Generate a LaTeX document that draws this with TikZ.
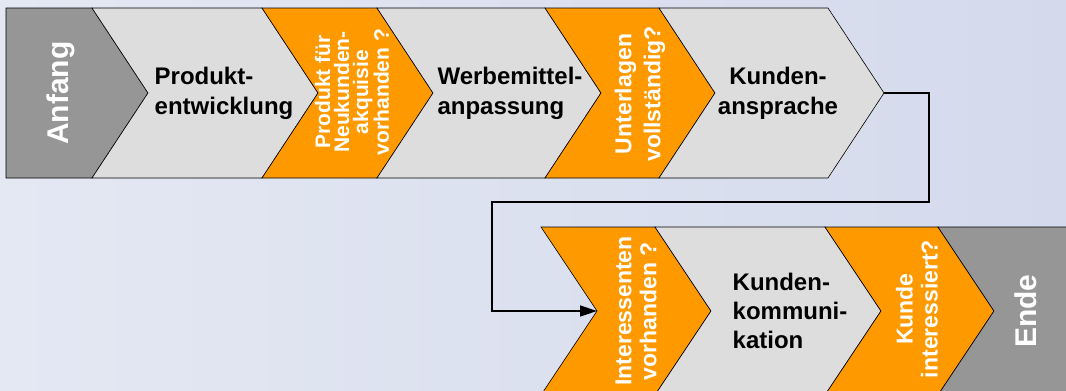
\documentclass[tikz,border=0pt]{standalone}
\usepackage{fontspec}
\setmainfont{Liberation Sans}
\usepackage{tikz}
\usetikzlibrary{arrows.meta, positioning, calc}
\definecolor{cOrange}{RGB}{255,153,0}
\definecolor{cLight}{RGB}{221,221,221}
\definecolor{cDark}{RGB}{150,150,150}
\definecolor{cBgA}{RGB}{228,232,243}
\definecolor{cBgB}{RGB}{212,218,236}
\tikzset{
	terminal/.style ={fill=cDark, draw=black, line width=0.6pt, line join=miter},
	process/.style  ={fill=cLight, draw=black, line width=0.6pt, line join=miter},
	decision/.style ={fill=cOrange, draw=black, line width=0.6pt, line join=miter},
	% texts on the chevrons
	termText/.style ={text=white, font=\bfseries\fontsize{30}{32}\selectfont, rotate=90, inner sep=0pt},
	procText/.style ={text=black, font=\bfseries\fontsize{24}{30}\selectfont, align=left, inner sep=0pt},
	decText/.style  ={text=white, font=\bfseries\fontsize{23}{25}\selectfont, align=center, rotate=90, inner sep=0pt},
	flowarrow/.style={-{Triangle[length=17pt, width=11pt]}, line width=1.4pt},
}
\begin{document}
\begin{tikzpicture}[x=1pt, y=-1pt]
	\useasboundingbox (0,0) rectangle (1066,391);
	\clip (0,0) rectangle (1066,391);
	\shade[left color=cBgA, right color=cBgB] (0,0) rectangle (1066,391);
	% upper row
	\draw[terminal] (6,8) -- (92,8) -- (148,93) -- (92,178) -- (6,178) -- cycle;
	\draw[process]  (92,8) -- (262,8) -- (318,93) -- (262,178) -- (92,178) -- (148,93) -- cycle;
	\draw[decision] (262,8) -- (377,8) -- (433,93) -- (377,178) -- (262,178) -- (318,93) -- cycle;
	\draw[process]  (377,8) -- (545,8) -- (601,93) -- (545,178) -- (377,178) -- (433,93) -- cycle;
	\draw[decision] (545,8) -- (659,8) -- (715,93) -- (659,178) -- (545,178) -- (601,93) -- cycle;
	\draw[process]  (659,8) -- (828,8) -- (884,93) -- (828,178) -- (659,178) -- (715,93) -- cycle;
	% lower row
	\draw[decision] (541,227) -- (655,227) -- (711,311) -- (655,395) -- (541,395) -- (597,311) -- cycle;
	\draw[process]  (655,227) -- (825,227) -- (881,311) -- (825,395) -- (655,395) -- (711,311) -- cycle;
	\draw[decision] (825,227) -- (938,227) -- (994,311) -- (938,395) -- (825,395) -- (881,311) -- cycle;
	\draw[terminal] (938,227) -- (1072,227) -- (1072,395) -- (938,395) -- (994,311) -- cycle;
	% labels
	\node[termText] (anfang) at (61,93) {Anfang};
	\node[procText] (prodEntw) at (224,93) {Produkt-\\entwicklung};
	\node[decText, font=\bfseries\fontsize{21}{19}\selectfont] (qProdukt) at (352,92) {Produkt für\\Neukunden-\\akquisie\\vorhanden ?};
	\node[procText] (werbAnp) at (510,93) {Werbemittel-\\anpassung};
	\node[decText, font=\bfseries\fontsize{23}{29}\selectfont] (qUnterl) at (640,94) {Unterlagen\\vollständig?};
	\node[procText, align=center] (kdAnspr) at (778,93) {Kunden-\\ansprache};
	\node[decText] (qInter) at (636,311) {Interessenten\\vorhanden ?};
	\node[procText, font=\bfseries\fontsize{24}{29}\selectfont] (kdKomm) at (790,311) {Kunden-\\kommuni-\\kation};
	\node[decText] (qKunde) at (917,309) {Kunde\\interessiert?};
	\node[termText] (ende) at (1026,311) {Ende};
	% connector between the rows
	\coordinate (kaTip) at (884,93);
	\coordinate (iaNotch) at (597,311);
	\coordinate (bendR) at (929,202);
	\coordinate (bendL) at (492,202);
	\draw[flowarrow] (kaTip) -| (bendR) -- (bendL) |- (iaNotch);
\end{tikzpicture}
\end{document}
